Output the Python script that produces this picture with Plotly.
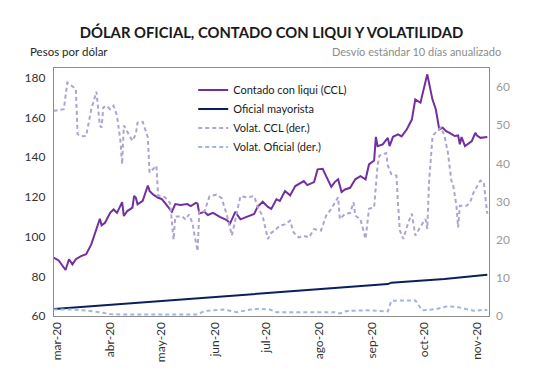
import plotly.graph_objects as go

# ---- Data ----
ccl_dates = ["2020-02-28","2020-03-02","2020-03-06","2020-03-08","2020-03-10","2020-03-12","2020-03-15","2020-03-18",
             "2020-03-21","2020-03-24","2020-03-26","2020-03-27","2020-03-29","2020-04-01","2020-04-03","2020-04-05",
             "2020-04-08","2020-04-09","2020-04-11","2020-04-14","2020-04-15","2020-04-16","2020-04-17","2020-04-20",
             "2020-04-23","2020-04-24","2020-04-26","2020-04-29","2020-05-01","2020-05-03","2020-05-07","2020-05-09",
             "2020-05-12","2020-05-16","2020-05-18","2020-05-21","2020-05-22","2020-05-23","2020-05-26","2020-05-28",
             "2020-05-31","2020-06-04","2020-06-08","2020-06-10","2020-06-13","2020-06-16","2020-06-20","2020-06-24",
             "2020-06-26","2020-06-29","2020-07-02","2020-07-04","2020-07-07","2020-07-09","2020-07-12","2020-07-15",
             "2020-07-18","2020-07-20","2020-07-23","2020-07-25","2020-07-29","2020-07-31","2020-08-03","2020-08-05",
             "2020-08-08","2020-08-10","2020-08-12","2020-08-14","2020-08-16","2020-08-19","2020-08-22","2020-08-25",
             "2020-08-28","2020-08-30","2020-09-02","2020-09-03","2020-09-04","2020-09-07","2020-09-10","2020-09-11",
             "2020-09-13","2020-09-16","2020-09-18","2020-09-21","2020-09-24","2020-09-26","2020-09-29","2020-10-03",
             "2020-10-06","2020-10-08","2020-10-09","2020-10-10","2020-10-12","2020-10-14","2020-10-16","2020-10-19",
             "2020-10-21","2020-10-22","2020-10-23","2020-10-25","2020-10-29","2020-10-31","2020-11-01","2020-11-03",
             "2020-11-07"]
ccl_values = [89.4, 88.0, 83.2, 88.6, 86.0, 88.6, 90.2, 91.1,
              96.1, 103.7, 109.0, 105.7, 107.0, 112.0, 113.7, 112.0,
              117.4, 110.4, 112.9, 114.6, 120.5, 119.6, 116.3, 118.0,
              125.8, 123.0, 121.3, 119.6, 119.0, 117.0, 112.5, 116.4,
              115.9, 116.4, 115.4, 117.0, 116.6, 111.7, 112.5, 110.9,
              112.0, 110.0, 108.4, 106.7, 112.5, 108.7, 110.0, 111.4,
              115.0, 117.6, 115.0, 114.0, 118.8, 118.0, 123.0, 120.8,
              125.5, 126.5, 128.0, 126.0, 127.5, 133.9, 134.2, 130.5,
              125.1, 127.5, 128.9, 122.5, 123.8, 124.6, 128.9, 130.5,
              128.9, 136.4, 138.4, 150.3, 145.6, 146.5, 149.8, 145.6,
              150.3, 151.5, 150.5, 154.0, 159.0, 169.2, 167.5, 181.8,
              169.2, 164.1, 159.1, 154.0, 154.9, 153.2, 152.3, 150.7,
              151.0, 146.5, 150.2, 145.6, 148.2, 152.3, 151.0, 149.8,
              150.2]

oficial_dates = ["2020-02-28","2020-07-03","2020-09-10","2020-09-12","2020-10-13","2020-11-07"]
oficial_values = [63.5, 71.7, 76.1, 76.8, 78.6, 80.8]

vol_ccl_dates = ["2020-02-28","2020-03-05","2020-03-07","2020-03-11","2020-03-12","2020-03-13","2020-03-15","2020-03-18",
                 "2020-03-21","2020-03-24","2020-03-26","2020-03-27","2020-03-28","2020-03-30","2020-04-01","2020-04-03",
                 "2020-04-05","2020-04-07","2020-04-08","2020-04-09","2020-04-12","2020-04-14","2020-04-16","2020-04-17",
                 "2020-04-20","2020-04-23","2020-04-24","2020-04-26","2020-04-28","2020-04-29","2020-05-01","2020-05-03",
                 "2020-05-06","2020-05-08","2020-05-09","2020-05-13","2020-05-15","2020-05-17","2020-05-19","2020-05-20",
                 "2020-05-22","2020-05-23","2020-05-26","2020-05-29","2020-06-02","2020-06-05","2020-06-08","2020-06-11",
                 "2020-06-14","2020-06-16","2020-06-20","2020-06-24","2020-06-26","2020-06-29","2020-07-02","2020-07-04",
                 "2020-07-06","2020-07-09","2020-07-12","2020-07-15","2020-07-17","2020-07-20","2020-07-23","2020-07-26",
                 "2020-07-29","2020-08-02","2020-08-05","2020-08-08","2020-08-12","2020-08-13","2020-08-16","2020-08-19",
                 "2020-08-21","2020-08-22","2020-08-25","2020-08-28","2020-08-30","2020-09-02","2020-09-04","2020-09-05",
                 "2020-09-09","2020-09-10","2020-09-12","2020-09-15","2020-09-16","2020-09-17","2020-09-19","2020-09-22",
                 "2020-09-24","2020-09-26","2020-09-30","2020-10-02","2020-10-03","2020-10-04","2020-10-06","2020-10-07",
                 "2020-10-09","2020-10-11","2020-10-13","2020-10-15","2020-10-17","2020-10-18","2020-10-20","2020-10-21",
                 "2020-10-22","2020-10-26","2020-10-28","2020-10-30","2020-11-03","2020-11-05","2020-11-06","2020-11-07"]
vol_ccl_values = [53.8, 54.2, 61.2, 59.9, 59.5, 47.7, 47.1, 47.2,
                  54.2, 58.8, 49.9, 49.4, 54.7, 55.1, 54.2, 55.1,
                  52.5, 45.9, 39.8, 49.9, 47.3, 45.9, 47.7, 50.7,
                  50.9, 46.8, 37.6, 38.5, 39.4, 31.5, 31.5, 31.1,
                  29.6, 20.0, 26.1, 26.1, 25.3, 26.6, 24.4, 21.8,
                  17.0, 27.4, 27.4, 31.4, 31.8, 30.9, 26.6, 21.1,
                  27.4, 31.4, 31.1, 31.4, 28.7, 26.1, 20.2, 21.8,
                  22.4, 23.7, 24.0, 25.0, 21.9, 20.6, 21.0, 20.6,
                  22.8, 22.4, 26.3, 28.1, 31.1, 25.4, 26.8, 27.0,
                  29.8, 26.3, 25.4, 20.2, 28.1, 28.5, 39.4, 42.0,
                  42.7, 39.4, 37.2, 36.8, 28.9, 22.4, 20.2, 24.6,
                  26.8, 21.1, 24.1, 25.4, 22.8, 35.0, 46.8, 47.7,
                  48.6, 49.4, 47.3, 42.9, 35.5, 34.6, 28.9, 23.2,
                  28.9, 28.9, 29.8, 32.4, 35.5, 35.0, 30.7, 26.8]

vol_of_dates = ["2020-02-28","2020-03-09","2020-03-16","2020-03-26","2020-04-01","2020-04-07","2020-05-22","2020-05-26",
                "2020-06-06","2020-06-10","2020-06-14","2020-06-22","2020-06-27","2020-07-03","2020-07-07","2020-08-10",
                "2020-08-13","2020-08-17","2020-08-29","2020-09-10","2020-09-12","2020-09-26","2020-09-30","2020-10-08",
                "2020-10-14","2020-10-20","2020-10-26","2020-10-31","2020-11-05","2020-11-07"]
vol_of_values = [1.7, 1.7, 1.5, 1.0, 0.5, 0.4, 0.4, 1.3,
                 1.7, 1.3, 1.0, 1.7, 1.9, 1.7, 1.0, 1.0,
                 0.65, 1.3, 1.5, 1.2, 4.0, 4.1, 1.5, 1.8,
                 2.5, 2.4, 1.7, 1.3, 1.7, 1.5]

tick_dates = ["2020-03-01","2020-04-01","2020-05-01","2020-06-01","2020-07-01",
              "2020-08-01","2020-09-01","2020-10-01","2020-11-01"]
tick_labels = ["mar-20","abr-20","may-20","jun-20","jul-20","ago-20","sep-20","oct-20","nov-20"]

FONT = "Lato, 'Open Sans', sans-serif"

fig = go.Figure()
fig.add_trace(go.Scatter(x=ccl_dates, y=ccl_values, name="Contado con liqui (CCL)",
                         mode="lines", line=dict(color="#7030A0", width=2)))
fig.add_trace(go.Scatter(x=oficial_dates, y=oficial_values, name="Oficial mayorista",
                         mode="lines", line=dict(color="#0B1F5C", width=2)))
fig.add_trace(go.Scatter(x=vol_ccl_dates, y=vol_ccl_values, name="Volat. CCL (der.)", yaxis="y2",
                         mode="lines", line=dict(color="#B0A3CF", width=2, dash="4px,3px")))
fig.add_trace(go.Scatter(x=vol_of_dates, y=vol_of_values, name="Volat. Oficial (der.)", yaxis="y2",
                         mode="lines", line=dict(color="#9FB6E2", width=2, dash="4px,3px")))

fig.update_layout(
    width=533, height=383,
    margin=dict(l=54, r=44, t=68, b=67),
    paper_bgcolor="white", plot_bgcolor="white",
    font=dict(family=FONT, size=12, color="#404040"),
    title=dict(text="<b>DÓLAR OFICIAL, CONTADO CON LIQUI Y VOLATILIDAD</b>",
               x=0.5, xref="paper", xanchor="center", y=0.915, yanchor="middle",
               font=dict(family=FONT, size=14.8, color="#1a1a1a")),
    showlegend=True,
    legend=dict(x=0.32, y=0.97, xanchor="left", yanchor="top",
                bgcolor="rgba(0,0,0,0)", font=dict(size=11, color="#1a1a1a"),
                tracegroupgap=0, itemwidth=30),
    xaxis=dict(type="date", range=["2020-02-28 06:00", "2020-11-08"],
               tickvals=tick_dates, ticktext=tick_labels, tickangle=-90,
               showgrid=False, showline=True, linecolor="#8c8c8c", linewidth=1.3,
               mirror=True, ticks="", tickfont=dict(size=12, color="#333333")),
    yaxis=dict(range=[60, 185], tick0=60, dtick=20, showgrid=False, zeroline=False,
               showline=True, linecolor="#8c8c8c", linewidth=1.3, mirror=True,
               ticks="", ticklabelstandoff=5, tickfont=dict(size=12, color="#333333")),
    yaxis2=dict(range=[0, 65], tick0=0, dtick=10, overlaying="y", side="right",
                showgrid=False, zeroline=False, showline=False, ticks="",
                ticklabelstandoff=6, tickfont=dict(size=12, color="#9a9a9a")),
    annotations=[
        dict(text="Pesos por dólar", xref="paper", yref="paper", x=-0.06, y=1.065,
             xanchor="left", yanchor="middle", showarrow=False,
             font=dict(size=11.5, color="#262626")),
        dict(text="Desvío estándar 10 días anualizado", xref="paper", yref="paper", x=1.032, y=1.065,
             xanchor="right", yanchor="middle", showarrow=False,
             font=dict(size=11, color="#8c8c8c")),
    ],
)

fig.write_html("out.html", config={"displayModeBar": False},
               post_script="document.body.style.margin='0';document.body.style.padding='0';")
